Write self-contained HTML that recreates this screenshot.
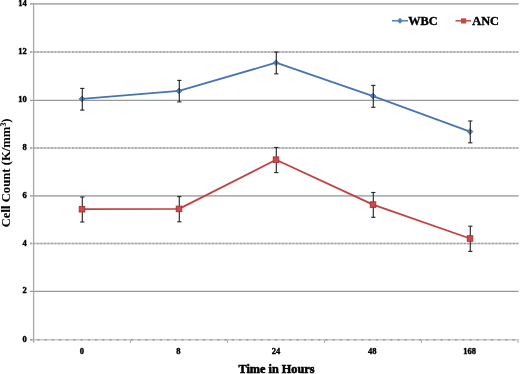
<!DOCTYPE html>
<html><head><meta charset="utf-8"><style>
html,body{margin:0;padding:0;background:#fff;width:520px;height:374px;overflow:hidden}
svg{display:block}
text{font-family:"Liberation Serif",serif;font-weight:bold;fill:#000;stroke:#000;stroke-width:0.4px}
</style></head><body>
<svg width="520" height="374" viewBox="0 0 520 374">
<defs><filter id="gs" x="0" y="0" width="520" height="374" filterUnits="userSpaceOnUse"><feOffset dx="0" dy="0"/></filter></defs>
<rect width="520" height="374" fill="#fff"/>
<g fill="none">
<line x1="30" y1="3.9" x2="518.5" y2="3.9" stroke="#b0b0b0" stroke-width="1.7"/>
<line x1="30" y1="195.9" x2="518.5" y2="195.9" stroke="#b0b0b0" stroke-width="1.7"/>
<line x1="30" y1="100.4" x2="518.5" y2="100.4" stroke="#999999" stroke-width="1.1"/>
<line x1="30" y1="291.4" x2="518.5" y2="291.4" stroke="#999999" stroke-width="1.1"/>
<line x1="30" y1="51.9" x2="518.5" y2="51.9" stroke="#c6c6c6" stroke-width="1.5"/>
<line x1="30" y1="51.9" x2="518.5" y2="51.9" stroke="#a0a0a0" stroke-width="1.5" stroke-dasharray="1.8 1.7"/>
<line x1="30" y1="148.1" x2="518.5" y2="148.1" stroke="#c6c6c6" stroke-width="1.5"/>
<line x1="30" y1="148.1" x2="518.5" y2="148.1" stroke="#a0a0a0" stroke-width="1.5" stroke-dasharray="1.8 1.7"/>
<line x1="30" y1="243.6" x2="518.5" y2="243.6" stroke="#c6c6c6" stroke-width="1.5"/>
<line x1="30" y1="243.6" x2="518.5" y2="243.6" stroke="#a0a0a0" stroke-width="1.5" stroke-dasharray="1.8 1.7"/>
<line x1="30" y1="339.8" x2="518.5" y2="339.8" stroke="#c8c8c8" stroke-width="1.5"/>
<line x1="30" y1="339.8" x2="518.5" y2="339.8" stroke="#9e9e9e" stroke-width="1.5" stroke-dasharray="2.5 4.7"/>
</g>
<line x1="33.6" y1="3" x2="33.6" y2="342.8" stroke="#a8a8a8" stroke-width="1.3"/>
<g stroke="#a8a8a8" stroke-width="1">
<line x1="130.5" y1="339.8" x2="130.5" y2="343"/>
<line x1="227.5" y1="339.8" x2="227.5" y2="343"/>
<line x1="324.5" y1="339.8" x2="324.5" y2="343"/>
<line x1="421.5" y1="339.8" x2="421.5" y2="343"/>
<line x1="518" y1="339.8" x2="518" y2="343"/>
</g>
<polyline points="82,98.95 179,90.85 276,62.70 373,96.05 470,131.60" fill="none" stroke="#4774b3" stroke-width="1.8" stroke-linejoin="round"/>
<g fill="#5b88c8" stroke="#3d64a0" stroke-width="0.9">
<path d="M82 96.2 L84.8 99.0 L82 101.8 L79.2 99.0Z"/>
<path d="M179 88.1 L181.8 90.9 L179 93.7 L176.2 90.9Z"/>
<path d="M276 59.9 L278.8 62.7 L276 65.5 L273.2 62.7Z"/>
<path d="M373 93.2 L375.8 96.0 L373 98.8 L370.2 96.0Z"/>
<path d="M470 128.8 L472.8 131.6 L470 134.4 L467.2 131.6Z"/>
</g>
<g stroke="#2a2a2a" stroke-width="1.15">
<line x1="82.3" y1="88.4" x2="82.3" y2="110.1"/>
<line x1="80.2" y1="88.4" x2="84.39999999999999" y2="88.4"/>
<line x1="80.2" y1="110.1" x2="84.39999999999999" y2="110.1"/>
<line x1="179.3" y1="80.4" x2="179.3" y2="101.9"/>
<line x1="177.20000000000002" y1="80.4" x2="181.4" y2="80.4"/>
<line x1="177.20000000000002" y1="101.9" x2="181.4" y2="101.9"/>
<line x1="276.3" y1="52.1" x2="276.3" y2="73.8"/>
<line x1="274.2" y1="52.1" x2="278.40000000000003" y2="52.1"/>
<line x1="274.2" y1="73.8" x2="278.40000000000003" y2="73.8"/>
<line x1="373.3" y1="85.4" x2="373.3" y2="107.3"/>
<line x1="371.2" y1="85.4" x2="375.40000000000003" y2="85.4"/>
<line x1="371.2" y1="107.3" x2="375.40000000000003" y2="107.3"/>
<line x1="470.3" y1="121.0" x2="470.3" y2="142.8"/>
<line x1="468.2" y1="121.0" x2="472.40000000000003" y2="121.0"/>
<line x1="468.2" y1="142.8" x2="472.40000000000003" y2="142.8"/>
</g>
<g stroke="#2a2a2a" stroke-width="1.15">
<line x1="82.3" y1="197.0" x2="82.3" y2="222.0"/>
<line x1="80.2" y1="197.0" x2="84.39999999999999" y2="197.0"/>
<line x1="80.2" y1="222.0" x2="84.39999999999999" y2="222.0"/>
<line x1="179.3" y1="196.6" x2="179.3" y2="221.8"/>
<line x1="177.20000000000002" y1="196.6" x2="181.4" y2="196.6"/>
<line x1="177.20000000000002" y1="221.8" x2="181.4" y2="221.8"/>
<line x1="276.3" y1="147.5" x2="276.3" y2="172.6"/>
<line x1="274.2" y1="147.5" x2="278.40000000000003" y2="147.5"/>
<line x1="274.2" y1="172.6" x2="278.40000000000003" y2="172.6"/>
<line x1="373.3" y1="192.5" x2="373.3" y2="217.3"/>
<line x1="371.2" y1="192.5" x2="375.40000000000003" y2="192.5"/>
<line x1="371.2" y1="217.3" x2="375.40000000000003" y2="217.3"/>
<line x1="470.3" y1="226.2" x2="470.3" y2="251.4"/>
<line x1="468.2" y1="226.2" x2="472.40000000000003" y2="226.2"/>
<line x1="468.2" y1="251.4" x2="472.40000000000003" y2="251.4"/>
</g>
<polyline points="82,209.20 179,208.90 276,159.75 373,204.60 470,238.50" fill="none" stroke="#c2403f" stroke-width="1.8" stroke-linejoin="round"/>
<g fill="#d04848" stroke="#a83238" stroke-width="0.9">
<rect x="79.2" y="206.4" width="5.6" height="5.6"/>
<rect x="176.2" y="206.1" width="5.6" height="5.6"/>
<rect x="273.2" y="156.9" width="5.6" height="5.6"/>
<rect x="370.2" y="201.8" width="5.6" height="5.6"/>
<rect x="467.2" y="235.7" width="5.6" height="5.6"/>
</g>
<line x1="392" y1="20.8" x2="408" y2="20.8" stroke="#5580bb" stroke-width="1.5"/>
<path d="M400 17.8 L403 20.8 L400 23.8 L397 20.8Z" fill="#5580bb"/>
<line x1="455.5" y1="20.8" x2="471" y2="20.8" stroke="#c44a4a" stroke-width="1.5"/>
<rect x="461" y="18.3" width="5.2" height="5.2" fill="#c44a4a"/>
<g filter="url(#gs)">
<g font-size="8.5" text-anchor="end" style="stroke-width:0.15px">
<text x="26.8" y="5.85">14</text>
<text x="26.8" y="53.85">12</text>
<text x="26.8" y="102.35">10</text>
<text x="26.8" y="150.05">8</text>
<text x="26.8" y="197.85">6</text>
<text x="26.8" y="245.55">4</text>
<text x="26.8" y="293.35">2</text>
<text x="26.8" y="341.75">0</text>
</g>
<g font-size="8.5" text-anchor="middle" style="stroke-width:0.15px">
<text x="81.8" y="353.8">0</text>
<text x="178.4" y="353.8">8</text>
<text x="275.9" y="353.8">24</text>
<text x="372.3" y="353.8">48</text>
<text x="469.6" y="353.8">168</text>
</g>
<text x="276.5" y="372.8" font-size="12" text-anchor="middle" textLength="76" lengthAdjust="spacingAndGlyphs" style="stroke-width:0.55px">Time in Hours</text>
<text transform="translate(10.3,172.9) rotate(-90)" font-size="12.7" text-anchor="middle" style="stroke-width:0.05px">Cell Count (K/mm<tspan font-size="7.8" dy="-4">3</tspan><tspan dy="4">)</tspan></text>
<text x="408.3" y="24.7" font-size="12.3" style="stroke-width:0.4px">WBC</text>
<text x="472.3" y="24.7" font-size="12.3" style="stroke-width:0.4px">ANC</text>
</g>
</svg>
</body></html>
